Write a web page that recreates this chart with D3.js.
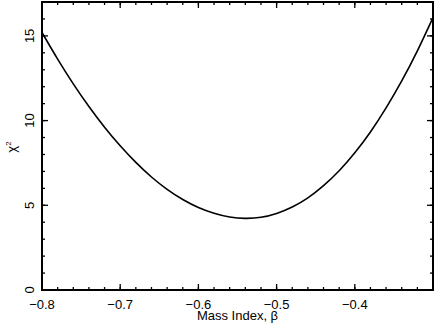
<!DOCTYPE html>
<html>
<head>
<meta charset="utf-8">
<script src="https://cdn.jsdelivr.net/npm/d3@7"></script>
<style>
body{margin:0;background:#fff;}
text{font-family:"Liberation Sans",Arial,sans-serif;fill:#000;}
</style>
</head>
<body>
<script>
// chart size and plot box
var width=436, height=324;
var pleft=42, pright=433, ptop=2, pbottom=290;

// data
var beta=[-0.80,-0.78,-0.76,-0.74,-0.72,-0.70,-0.68,-0.66,-0.64,-0.62,-0.60,-0.58,-0.56,
          -0.54,-0.52,-0.50,-0.48,-0.46,-0.44,-0.42,-0.40,-0.38,-0.36,-0.34,-0.32,-0.30];
var chi2=[15.20,13.63,12.17,10.83,9.61,8.51,7.53,6.67,5.94,5.34,4.87,4.53,4.31,
          4.23,4.29,4.52,4.90,5.44,6.16,7.04,8.10,9.33,10.75,12.34,14.12,16.08];
var xTicks=[-0.8,-0.7,-0.6,-0.5,-0.4];
var yTicks=[0,5,10,15];
var xTitle="Mass Index, β";

var svg=d3.select("body").append("svg")
  .attr("width",width).attr("height",height);

var x=d3.scaleLinear().domain([-0.8,-0.3]).range([pleft,pright]);
var y=d3.scaleLinear().domain([0,17]).range([pbottom,ptop]);

var xMinor=d3.range(-0.8,-0.299,0.02);
var yMinor=d3.range(0,17.01,1);

//ticks, pointing inward, on all four sides
function xticks(g,vals,len){
  g.selectAll(null).data(vals).enter().append("line")
    .attr("x1",function(d){return x(d);}).attr("x2",function(d){return x(d);})
    .attr("y1",pbottom).attr("y2",pbottom-len);
  g.selectAll(null).data(vals).enter().append("line")
    .attr("x1",function(d){return x(d);}).attr("x2",function(d){return x(d);})
    .attr("y1",ptop).attr("y2",ptop+len);
}
function yticks(g,vals,len){
  g.selectAll(null).data(vals).enter().append("line")
    .attr("y1",function(d){return y(d);}).attr("y2",function(d){return y(d);})
    .attr("x1",pleft).attr("x2",pleft+len);
  g.selectAll(null).data(vals).enter().append("line")
    .attr("y1",function(d){return y(d);}).attr("y2",function(d){return y(d);})
    .attr("x1",pright).attr("x2",pright-len);
}
var tg=svg.append("g").attr("stroke","#000").attr("stroke-width",1.3);
xticks(tg,xMinor,3);
xticks(tg,xTicks,6);
yticks(tg,yMinor,3);
yticks(tg,yTicks,6);

//frame
svg.append("rect")
  .attr("x",pleft).attr("y",ptop)
  .attr("width",pright-pleft).attr("height",pbottom-ptop)
  .attr("fill","none").attr("stroke","#000").attr("stroke-width",2);

//curve
var line=d3.line()
  .x(function(d,i){return x(beta[i]);})
  .y(function(d,i){return y(chi2[i]);})
  .curve(d3.curveNatural);
svg.append("path").datum(chi2)
  .attr("d",line)
  .attr("fill","none").attr("stroke","#000").attr("stroke-width",1.6);

//labels
var fmt=d3.format(".1f");
svg.selectAll(null).data(xTicks).enter().append("text")
  .attr("x",function(d){return x(d);}).attr("y",308.5)
  .attr("text-anchor","middle").style("font-size","13px")
  .text(function(d){return fmt(d);});

svg.selectAll(null).data(yTicks).enter().append("text")
  .attr("transform",function(d){return "translate(34,"+y(d)+") rotate(-90)";})
  .attr("text-anchor","middle").style("font-size","13px")
  .text(function(d){return d;});

svg.append("text")
  .attr("x",(pleft+pright)/2).attr("y",320)
  .attr("text-anchor","middle").style("font-size","13px")
  .text(xTitle);

var yl=svg.append("text")
  .attr("transform","translate(16,147) rotate(-90)")
  .attr("text-anchor","middle").style("font-size","13px");
yl.append("tspan").text("χ");
yl.append("tspan").attr("dy",-5).style("font-size","8px").text("2");
</script>
</body>
</html>
